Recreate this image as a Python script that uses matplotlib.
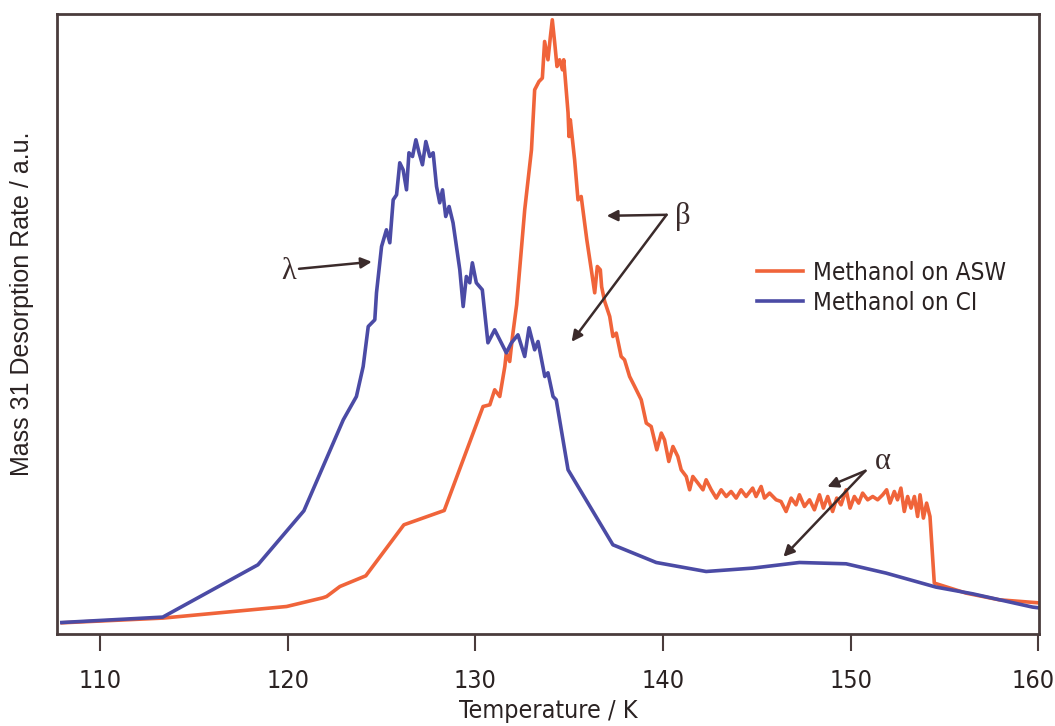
import matplotlib
matplotlib.use("Agg")
import matplotlib.pyplot as plt
import matplotlib.transforms as mtransforms
from matplotlib import font_manager

# ---------------- data (y in arbitrary units) ----------------
asw_T = [107.98, 113.34, 119.94, 121.87, 122.07, 122.78, 124.16, 126.19, 128.34, 130.41,
         130.77, 131.03, 131.30, 131.57, 131.65, 131.83, 131.97, 132.20, 132.63, 132.99,
         133.16, 133.39, 133.57, 133.69, 133.87, 133.99, 134.10, 134.23, 134.35, 134.49,
         134.64, 134.71, 134.94, 134.99, 135.06, 135.29, 135.47, 135.64, 135.94, 136.18,
         136.36, 136.50, 136.66, 136.73, 136.89, 137.16, 137.33, 137.51, 137.77, 137.95,
         138.22, 138.49, 138.84, 139.11, 139.37, 139.67, 139.91, 140.08, 140.31, 140.53,
         140.79, 140.97, 141.24, 141.42, 141.59, 141.86, 142.13, 142.30, 142.57, 142.84,
         143.10, 143.37, 143.63, 143.90, 144.16, 144.43, 144.78, 144.96, 145.23, 145.41,
         145.68, 146.03, 146.29, 146.56, 146.83, 147.09, 147.27, 147.54, 147.81, 148.07,
         148.34, 148.55, 148.78, 149.04, 149.26, 149.49, 149.76, 149.97, 150.20, 150.43,
         150.64, 150.91, 151.18, 151.44, 151.71, 151.92, 152.10, 152.33, 152.50, 152.68,
         152.86, 153.04, 153.22, 153.40, 153.57, 153.70, 153.88, 154.05, 154.23, 154.46,
         156.15, 157.92, 159.79, 160.00]
asw_y = [11, 15.7, 27.3, 36, 37.3, 47.3, 58, 109, 123.3, 227.3,
         229, 244, 237.3, 267.3, 281, 272.3, 296, 329, 424, 484,
         544, 552.3, 555.7, 592.3, 574, 595.7, 614, 590.7, 567.3, 574,
         564, 574, 521, 497.3, 514, 474, 434, 437.3, 394, 364,
         341, 367.3, 364, 347, 332.5, 317.3, 297.3, 300.7, 277.3, 274,
         257.3, 247.3, 234, 210.7, 207.3, 184, 200.7, 194, 172.3, 187.3,
         177.3, 164, 157.3, 144, 157.3, 150.7, 144, 154, 144, 135.7,
         144, 137.3, 142.3, 135.7, 144, 137.3, 145.7, 137.3, 147.3, 135.7,
         140.7, 134, 132.3, 122.3, 135.7, 129, 139, 127.3, 134, 124,
         139, 125.7, 137.3, 122.3, 135.7, 129, 144, 125.7, 137.3, 130.7,
         140.7, 134, 137.3, 134, 139, 144, 130.7, 142.3, 134, 145.7,
         122.3, 137.3, 125.7, 137.3, 117.3, 139, 115.7, 130.7, 117.3, 50.7,
         40.7, 34, 31.3, 31]

ci_T = [107.96, 113.34, 118.41, 120.86, 122.96, 123.66, 124.02, 124.29, 124.64, 124.73,
        125.00, 125.26, 125.44, 125.62, 125.80, 125.97, 126.15, 126.33, 126.46, 126.65,
        126.83, 127.00, 127.18, 127.36, 127.57, 127.75, 127.93, 128.10, 128.25, 128.42,
        128.60, 128.81, 129.17, 129.35, 129.52, 129.70, 129.84, 130.05, 130.37, 130.67,
        131.03, 131.30, 131.65, 131.92, 132.27, 132.63, 132.86, 133.16, 133.34, 133.70,
        133.87, 134.14, 134.31, 134.94, 137.33, 139.64, 142.30, 144.79, 147.27, 149.76,
        151.89, 154.55, 156.50, 159.70, 160.00]
ci_y = [11.3, 16.7, 69, 123, 214, 237.3, 267.3, 307.3, 314, 341,
        387.3, 404, 391, 434, 439, 471, 464, 444, 481, 477.3,
        494, 481, 469, 492.3, 477.3, 481, 447.3, 431, 444, 417.3,
        427.3, 411, 364, 327.3, 357.3, 351, 371, 351, 344, 291,
        304, 294, 281, 291, 299, 277.3, 306, 284, 292.3, 257.3,
        261, 237.3, 234, 164, 89, 71.3, 62.3, 65.7, 71.3, 70,
        60.7, 46.7, 40, 26.7, 26]

series_labels = ["Methanol on ASW", "Methanol on CI"]
x_ticks = [110, 120, 130, 140, 150, 160]

# ---------------- styling ----------------
ORANGE = "#f0643a"
BLUE = "#4b4ba5"
DARK = "#4a3c3c"
ARROW = "#3b2b2b"
TXT = "#2a2222"

available = {f.name for f in font_manager.fontManager.ttflist}
has_narrow = "Liberation Sans Narrow" in available
narrow = ["Liberation Sans Narrow", "DejaVu Sans"] if has_narrow else ["DejaVu Sans"]
narrow_kw = {} if has_narrow else {"stretch": "condensed"}

fig = plt.figure(figsize=(10.55, 7.26), dpi=100)
ax = fig.add_axes([0.054, 0.127, 0.931, 0.854])

ax.plot(asw_T, asw_y, color=ORANGE, lw=2.6, label=series_labels[0], solid_joinstyle="round")
ax.plot(ci_T, ci_y, color=BLUE, lw=2.6, label=series_labels[1], solid_joinstyle="round")

ax.set_xlim(107.7, 160.05)
ax.set_ylim(0, 620)

for s in ax.spines.values():
    s.set_color(DARK)
    s.set_linewidth(2.0)

ax.set_xticks(x_ticks)
ax.set_xticklabels([str(t) for t in x_ticks], family=narrow, fontsize=18, color=TXT, **narrow_kw)
ax.tick_params(axis="x", direction="out", length=12, width=1.5, color=DARK, pad=13)
ax.set_yticks([])
# nudge the last tick label slightly left so it stays inside the canvas
last = ax.get_xticklabels()[-1]
last.set_transform(last.get_transform() + mtransforms.ScaledTranslation(-5 / 100, 0, fig.dpi_scale_trans))

ax.set_xlabel("Temperature / K", family=narrow, fontsize=18, color=TXT, labelpad=5, **narrow_kw)
ax.set_ylabel("Mass 31 Desorption Rate / a.u.", family=["Liberation Sans", "DejaVu Sans"],
              fontsize=18, color=TXT)
ax.yaxis.set_label_coords(-0.023, 0.532)

leg = ax.legend(loc="center left", bbox_to_anchor=(0.713, 0.558), frameon=False,
                borderpad=0, borderaxespad=0, handlelength=1.9, handletextpad=0.38,
                labelspacing=0.25, prop=dict(family=narrow, size=17.5, **narrow_kw))
for t in leg.get_texts():
    t.set_color(TXT)

# annotation arrows
aprops = dict(arrowstyle="-|>", color=ARROW, lw=1.8, mutation_scale=16, shrinkA=0, shrinkB=0)
serif = ["Liberation Serif", "DejaVu Serif"]

ax.annotate("", xy=(124.48, 372), xytext=(120.60, 365), arrowprops=aprops)
ax.text(120.45, 362, "λ", family=serif, fontsize=22, ha="right", va="center", color=ARROW)

ax.annotate("", xy=(137.0, 418), xytext=(140.19, 419), arrowprops=aprops)
ax.annotate("", xy=(135.13, 292), xytext=(140.19, 419), arrowprops=aprops)
ax.text(140.65, 417, "β", family=serif, fontsize=22, ha="left", va="center", color=ARROW)

ax.annotate("", xy=(148.76, 147), xytext=(150.79, 163), arrowprops=aprops)
ax.annotate("", xy=(146.42, 77), xytext=(150.79, 163), arrowprops=aprops)
ax.text(151.3, 172, "α", family=serif, fontsize=22, ha="left", va="center", color=ARROW)

fig.savefig("out.png", dpi=100)
